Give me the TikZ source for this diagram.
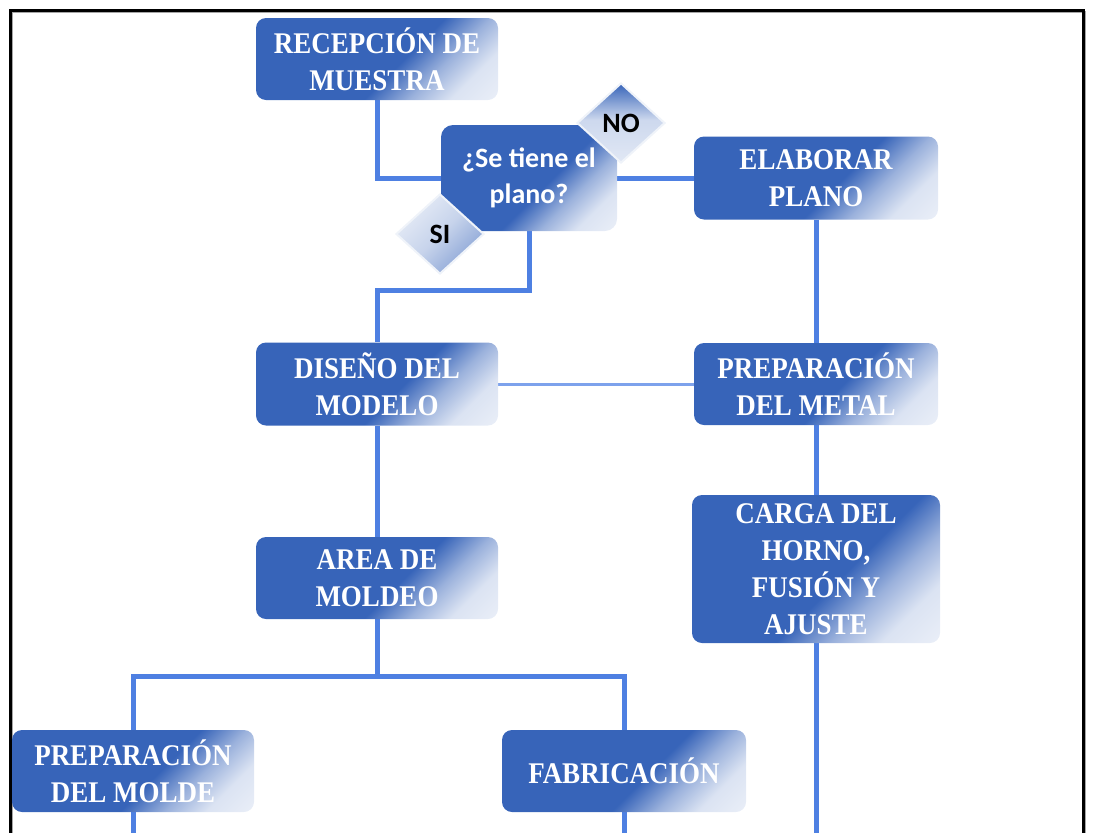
\documentclass[tikz,border=0pt]{standalone}
\usepackage{fontspec}
\usetikzlibrary{shapes.geometric,calc}
\newfontfamily\boxfont{Liberation Serif}[FakeStretch=0.9]
\newfontfamily\decfont{Carlito}
\definecolor{boxblue}{RGB}{55,100,185}
\definecolor{lineblue}{RGB}{78,128,226}
\definecolor{thinblue}{RGB}{125,162,236}
\pgfdeclareverticalshading{boxshade}{100bp}{color(0bp)=(white); color(25bp)=(white!82!boxblue); color(34bp)=(white!50!boxblue); color(44bp)=(boxblue); color(100bp)=(boxblue)}
\pgfdeclareverticalshading{noshade}{100bp}{color(0bp)=(white!85!boxblue); color(25bp)=(white!85!boxblue); color(52bp)=(white!75!boxblue); color(75bp)=(boxblue); color(100bp)=(boxblue)}
\pgfdeclareverticalshading{sishade}{100bp}{color(0bp)=(boxblue); color(25bp)=(boxblue!60!white); color(50bp)=(white!72!boxblue); color(75bp)=(white!88!boxblue); color(100bp)=(white)}
\pgfdeclarelayer{bg}
\pgfsetlayers{bg,main}
\begin{document}
\begin{tikzpicture}[x=1pt,y=-1pt,
  proc/.style={rectangle, rounded corners=10pt, shading=boxshade, shading angle=45,
    minimum width=242pt, minimum height=82pt, inner sep=0pt, align=center, text=white,
    font=\boxfont\bfseries\fontsize{30}{37}\selectfont},
  decbox/.style={rectangle, rounded corners=12pt, shading=boxshade, shading angle=45,
    minimum width=176pt, minimum height=106pt, inner sep=0pt, align=center, text=white,
    font=\decfont\bfseries\fontsize{28}{36}\selectfont},
  diam/.style={diamond, minimum width=88pt, minimum height=80pt, inner sep=0pt,
    draw=white!92!boxblue, line width=2pt, text=black,
    font=\decfont\bfseries\fontsize{28}{30}\selectfont},
  conn/.style={draw=lineblue, line width=5pt},
  thinconn/.style={draw=thinblue, line width=3pt}]
\useasboundingbox (0,0) rectangle (1093,833);
\clip (0,0) rectangle (1093,833);
% frame
\draw[line width=2pt, black!35] (12,845) -- (12,12) -- (1085,12) -- (1085,845);
\draw[line width=3pt, black] (10,845) -- (10,10) -- (1083,10) -- (1083,845);
% nodes
\node[proc] (rec) at (377,59) {RECEPCIÓN DE\\MUESTRA};
\node[decbox] (dec) at (529,178) {¿Se tiene el\\plano?};
\node[diam, shading=noshade] (no) at (621,123) {NO};
\node[diam, shading=sishade, shading angle=45] (si) at (440,234) {SI};
\node[proc, minimum width=244pt, minimum height=83pt] (elab) at (816,178) {ELABORAR\\PLANO};
\node[proc, minimum height=83pt] (dis) at (377,384) {DISEÑO DEL\\MODELO};
\node[proc, minimum width=244pt] (prepm) at (816,384) {PREPARACIÓN\\DEL METAL};
\node[proc] (area) at (377,578) {AREA DE\\MOLDEO};
\node[proc, minimum width=248pt, minimum height=148pt] (carga) at (816,569) {CARGA DEL\\HORNO,\\FUSIÓN Y\\AJUSTE};
\node[proc] (pmolde) at (133,771) {PREPARACIÓN\\DEL MOLDE};
\node[proc, minimum width=244pt] (fab) at (624,771) {FABRICACIÓN};
% connectors
\coordinate (j1) at (377,290);
\coordinate (j2) at (377,676);
\coordinate (b1) at (133,845);
\coordinate (b2) at (624,845);
\coordinate (b3) at (816,845);
\begin{pgfonlayer}{bg}
\draw[conn] (rec.south) |- (dec.west);
\draw[conn] (dec.east) -- (elab.west);
\draw[conn] (dec.south) |- (j1) -- (dis.north);
\draw[conn] (elab.south) -- (prepm.north);
\draw[thinconn] (dis.east) -- (prepm.west);
\draw[conn] (dis.south) -- (area.north);
\draw[conn] (prepm.south) -- (carga.north);
\draw[conn] (carga.south) -- (b3);
\draw[conn] (area.south) -- (j2);
\draw[conn] (pmolde.north) |- (j2) -| (fab.north);
\draw[conn] (pmolde.south) -- (b1);
\draw[conn] (fab.south) -- (b2);
\end{pgfonlayer}
\end{tikzpicture}
\end{document}
